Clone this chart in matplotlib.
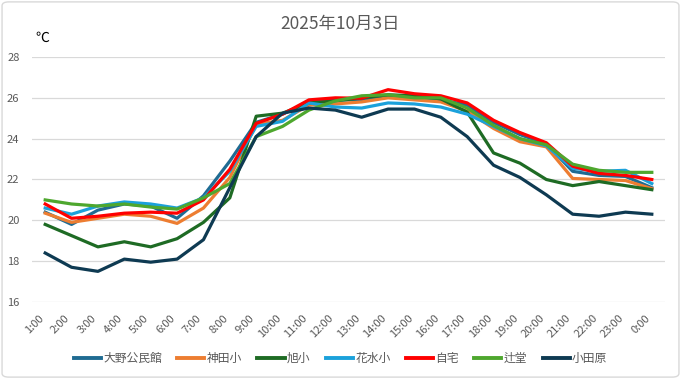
import matplotlib
matplotlib.use("Agg")
import matplotlib.pyplot as plt
from matplotlib.patches import FancyBboxPatch
from matplotlib.transforms import ScaledTranslation

plt.rcParams['font.family'] = ['Noto Sans CJK JP', 'DejaVu Sans']

hours = ['1:00', '2:00', '3:00', '4:00', '5:00', '6:00', '7:00', '8:00', '9:00', '10:00',
         '11:00', '12:00', '13:00', '14:00', '15:00', '16:00', '17:00', '18:00', '19:00',
         '20:00', '21:00', '22:00', '23:00', '0:00']

oono = [20.4, 19.8, 20.5, 20.8, 20.7, 20.1, 21.2, 22.9, 24.8, 25.2, 25.8, 25.9,
        25.9, 26.05, 26.05, 25.9, 25.65, 24.8, 24.2, 23.75, 22.4, 22.2, 22.15, 21.6]
kanda = [20.35, 19.9, 20.1, 20.3, 20.2, 19.85, 20.6, 22.1, 24.7, 24.9, 25.65, 25.7,
         25.8, 26.0, 25.9, 25.8, 25.35, 24.5, 23.85, 23.6, 22.05, 22.0, 21.95, 21.55]
asahi = [19.8, 19.25, 18.7, 18.95, 18.7, 19.1, 19.9, 21.1, 25.1, 25.25, 25.75, 25.85,
         26.0, 26.15, 26.1, 25.95, 25.3, 23.3, 22.8, 22.0, 21.7, 21.9, 21.7, 21.5]
hanamizu = [20.6, 20.3, 20.7, 20.9, 20.8, 20.6, 21.1, 22.4, 24.6, 24.85, 25.75, 25.55,
            25.5, 25.75, 25.7, 25.55, 25.2, 24.6, 24.0, 23.65, 22.55, 22.4, 22.45, 21.8]
jitaku = [20.8, 20.1, 20.2, 20.35, 20.4, 20.35, 21.0, 22.5, 24.75, 25.2, 25.9, 26.0,
          25.98, 26.4, 26.2, 26.1, 25.75, 24.9, 24.3, 23.8, 22.65, 22.3, 22.2, 22.0]
tsujido = [21.0, 20.8, 20.7, 20.8, 20.65, 20.55, 21.1, 21.8, 24.1, 24.6, 25.4, 25.85,
           26.1, 26.15, 26.0, 26.0, 25.5, 24.65, 24.0, 23.7, 22.75, 22.45, 22.35, 22.35]
odawara = [18.4, 17.7, 17.5, 18.1, 17.95, 18.1, 19.05, 21.6, 24.1, 25.25, 25.5, 25.4,
           25.05, 25.45, 25.45, 25.05, 24.1, 22.7, 22.1, 21.25, 20.3, 20.2, 20.4, 20.3]

names = ['大野公民館', '神田小', '旭小', '花水小', '自宅', '辻堂', '小田原']
series = [oono, kanda, asahi, hanamizu, jitaku, tsujido, odawara]
colors = ['#1F6B92', '#ED7D31', '#1E6B24', '#1BA1DB', '#FF0000', '#4EA72E', '#0E3A52']

fig = plt.figure(figsize=(6.81, 3.79), dpi=100)
ax = fig.add_axes([0.047, 0.2032, 0.9295, 0.6464])

x = list(range(len(hours)))
for name, vals, col in zip(names, series, colors):
    ax.plot(x, vals, color=col, linewidth=2.3, label=name, solid_joinstyle='round')

ax.set_xlim(-0.5, len(hours) - 0.5)
ax.set_ylim(16, 28)
ax.set_yticks(range(16, 29, 2))
ax.set_xticks(x)
ax.set_xticklabels(hours, rotation=45, ha='right', rotation_mode='anchor')
ax.grid(axis='y', color='#D9D9D9', linewidth=0.9)
ax.set_axisbelow(True)
for s in ax.spines.values():
    s.set_visible(False)
ax.tick_params(length=0, colors='#595959')
ax.tick_params(axis='x', pad=8, labelsize=8)
ax.tick_params(axis='y', pad=9, labelsize=8)

# shift rotated hour labels a little left, like Excel places them
shift = ScaledTranslation(-5 / 72, 0, fig.dpi_scale_trans)
for lbl in ax.get_xticklabels():
    lbl.set_transform(lbl.get_transform() + shift)

fig.text(0.5, 0.937, '2025年10月3日', ha='center', va='center', fontsize=12.5, color='#595959')
fig.text(0.052, 0.9, '℃', ha='left', va='center', fontsize=10, color='black')

leg = fig.legend(loc='center', bbox_to_anchor=(0.5, 0.055), ncol=7, frameon=False,
                 fontsize=8.5, handlelength=2.3, handletextpad=0.2, columnspacing=1.3,
                 labelcolor='#595959')
for h in leg.get_lines():
    h.set_linewidth(2.8)

border = FancyBboxPatch((0.003, 0.005), 0.994, 0.99, boxstyle='round,pad=0,rounding_size=0.01',
                        transform=fig.transFigure, facecolor='none', edgecolor='#D9D9D9',
                        linewidth=1)
fig.patches.append(border)

fig.savefig('out.png', dpi=100)
